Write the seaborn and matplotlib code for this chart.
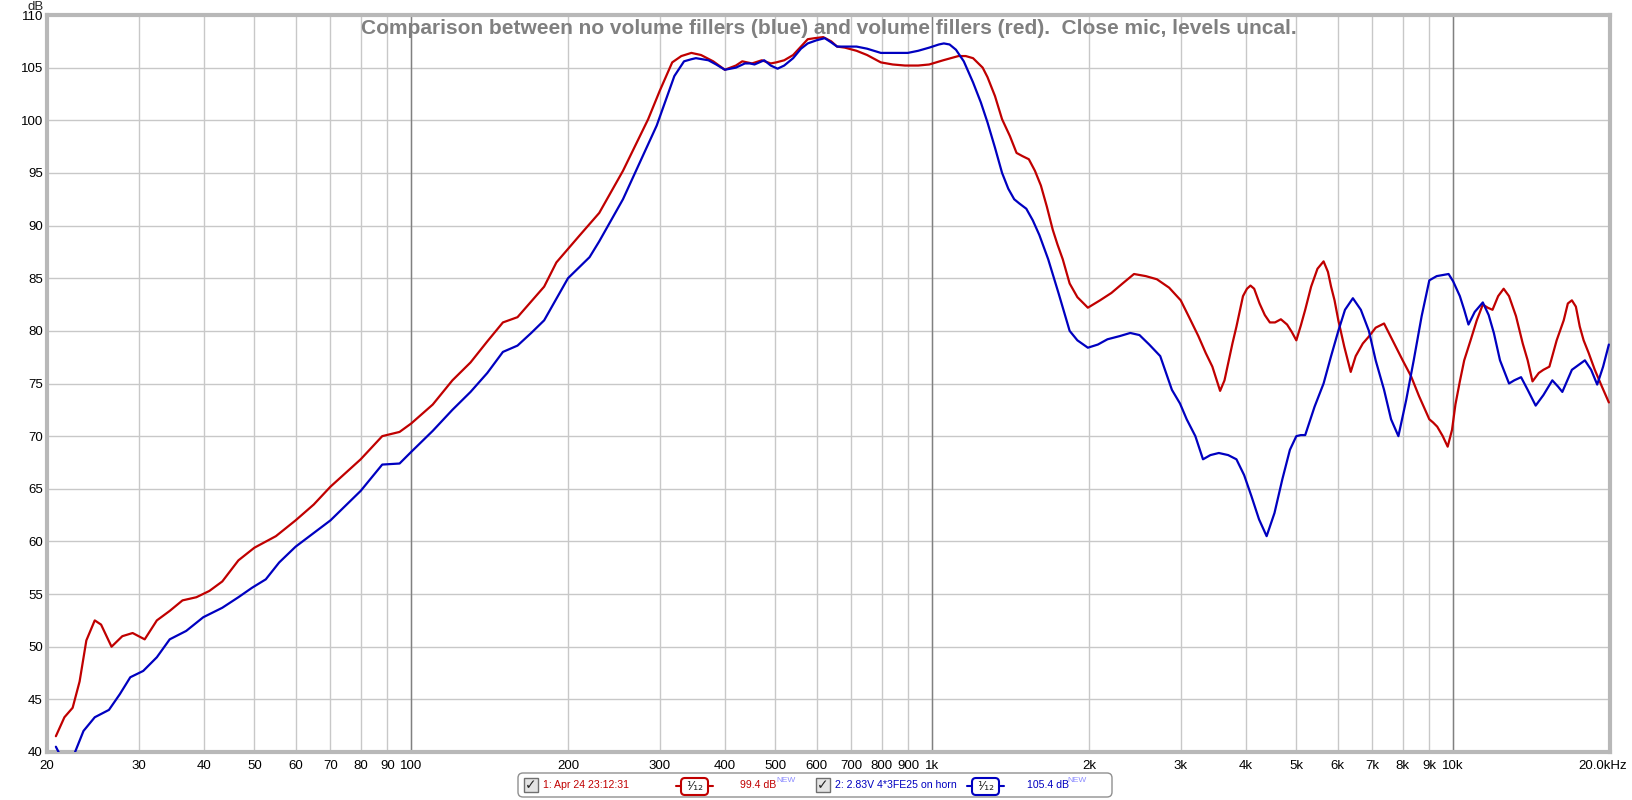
import matplotlib
matplotlib.use('Agg')
import matplotlib.pyplot as plt
from matplotlib.patches import FancyBboxPatch, Rectangle
from matplotlib.transforms import ScaledTranslation
import seaborn as sns

# values (Hz, dB)
red_freq = [20.8, 21.6, 22.4, 23.1, 23.8, 24.7, 25.4, 26.6, 27.9, 29.2, 30.8, 32.5,
            34.4, 36.4, 38.7, 41.0, 43.4, 46.6, 50, 55, 60, 65, 70, 80, 88, 95, 100,
            110, 120, 130, 140, 150, 160, 170, 180, 190, 210, 229.6, 255, 285, 300, 317,
            330, 345, 360, 380, 400, 420, 432, 451, 471, 490, 502, 520, 541, 560, 577,
            595, 618, 640, 657, 680, 716, 750, 797, 840, 887, 940, 987, 1050, 1123, 1160,
            1198, 1250, 1277, 1320, 1362, 1410, 1452, 1490, 1533, 1575, 1617, 1660, 1704,
            1740, 1781, 1836, 1900, 1990, 2100, 2208, 2320, 2440, 2570, 2700, 2850, 3000,
            3120, 3243, 3350, 3450, 3570, 3640, 3710, 3770, 3837, 3900, 3950, 4020, 4083,
            4150, 4250, 4350, 4448, 4550, 4670, 4800, 4900, 5000, 5100, 5200, 5338, 5490,
            5640, 5750, 5830, 5920, 6020, 6180, 6359, 6500, 6708, 6900, 7100, 7368, 7650,
            7850, 8000, 8300, 8600, 9000, 9150, 9320, 9550, 9760, 9950, 10100, 10300,
            10500, 10800, 11100, 11400, 11650, 11900, 12200, 12500, 12800, 13200, 13600,
            13900, 14200, 14600, 14900, 15300, 15800, 16300, 16600, 16900, 17200, 17500,
            17800, 18200, 18700, 19300, 19900]
red_db = [41.5, 43.3, 44.2, 46.7, 50.6, 52.5, 52.1, 50.0, 51.0, 51.3, 50.7, 52.5,
          53.4, 54.4, 54.7, 55.3, 56.2, 58.2, 59.4, 60.5, 62.0, 63.5, 65.2, 67.8, 70.0,
          70.4, 71.2, 73.0, 75.3, 77.0, 79.0, 80.8, 81.3, 82.8, 84.2, 86.5, 89.0, 91.2,
          95.2, 100.1, 102.8, 105.5, 106.1, 106.4, 106.2, 105.6, 104.8, 105.2, 105.6,
          105.4, 105.7, 105.4, 105.5, 105.7, 106.2, 107.0, 107.7, 107.8, 107.9, 107.5,
          107.0, 106.9, 106.6, 106.2, 105.5, 105.3, 105.2, 105.2, 105.3, 105.7, 106.1,
          106.1, 105.9, 105.0, 104.1, 102.3, 100.1, 98.5, 96.9, 96.6, 96.3, 95.2, 93.8,
          91.8, 89.6, 88.2, 86.8, 84.5, 83.2, 82.2, 82.9, 83.6, 84.5, 85.4, 85.2, 84.9,
          84.1, 82.9, 81.2, 79.5, 77.9, 76.6, 74.3, 75.3, 77.2, 78.8, 80.4, 82.0, 83.3,
          84.0, 84.3, 84.0, 82.6, 81.5, 80.8, 80.8, 81.1, 80.6, 79.9, 79.1, 80.5, 82.0,
          84.2, 85.9, 86.6, 85.6, 84.2, 82.9, 81.0, 78.5, 76.1, 77.6, 78.8, 79.5, 80.3,
          80.7, 79.1, 78.0, 77.2, 75.7, 73.8, 71.6, 71.3, 70.9, 70.0, 69.0, 70.6, 73.0,
          75.2, 77.2, 79.1, 81.0, 82.5, 82.2, 82.0, 83.3, 84.0, 83.3, 81.4, 78.8, 77.2,
          75.2, 76.0, 76.3, 76.6, 79.1, 81.0, 82.6, 82.9, 82.3, 80.4, 79.1, 77.9, 76.3,
          74.7, 73.2]

blue_freq = [20.8, 21.5, 22.6, 23.5, 24.7, 26.3, 27.6, 28.9, 30.6, 32.5, 34.4, 37.0,
             39.9, 43.4, 46.6, 49.5, 52.6, 55.8, 60, 70, 80, 88, 95, 100, 110, 120, 130,
             140, 150, 160, 170, 180, 200, 220, 229.6, 255, 296, 310, 320, 334, 345, 352,
             372, 385, 400, 420, 437, 447, 456, 476, 490, 505, 520, 541, 560, 577, 600,
             622, 640, 657, 680, 716, 750, 797, 850, 898, 940, 987, 1030, 1053, 1080, 1111,
             1150, 1198, 1240, 1277, 1320, 1362, 1400, 1437, 1470, 1516, 1560, 1606, 1670,
             1750, 1836, 1900, 1990, 2080, 2170, 2290, 2400, 2500, 2610, 2740, 2885, 2990,
             3080, 3200, 3310, 3420, 3550, 3700, 3837, 3970, 4100, 4240, 4385, 4540, 4700,
             4860, 5000, 5100, 5200, 5420, 5640, 5830, 6020, 6200, 6420, 6650, 6890, 7100,
             7368, 7600, 7850, 8123, 8400, 8700, 9000, 9300, 9800, 10000, 10300, 10500,
             10700, 11000, 11400, 11700, 11970, 12300, 12800, 13100, 13500, 13900, 14400,
             14900, 15500, 15900, 16200, 16900, 17900, 18400, 18900, 19400, 19900]
blue_db = [40.5, 39.1, 39.9, 42.0, 43.3, 44.0, 45.5, 47.1, 47.7, 49.0, 50.7, 51.5,
           52.8, 53.7, 54.7, 55.6, 56.4, 58.0, 59.5, 62.0, 64.8, 67.3, 67.4, 68.5, 70.5,
           72.5, 74.2, 76.0, 78.0, 78.6, 79.8, 81.0, 85.0, 87.0, 88.5, 92.5, 99.5, 102.3,
           104.2, 105.6, 105.8, 105.9, 105.7, 105.3, 104.8, 105.0, 105.4, 105.4, 105.3,
           105.7, 105.2, 104.9, 105.2, 105.9, 106.8, 107.3, 107.6, 107.8, 107.4, 107.0,
           107.0, 107.0, 106.8, 106.4, 106.4, 106.4, 106.6, 106.9, 107.2, 107.3, 107.2,
           106.7, 105.6, 103.6, 101.7, 99.8, 97.4, 95.0, 93.5, 92.5, 92.1, 91.6, 90.5,
           89.1, 86.8, 83.5, 80.0, 79.1, 78.4, 78.7, 79.2, 79.5, 79.8, 79.6, 78.7, 77.6,
           74.4, 73.1, 71.6, 70.0, 67.8, 68.2, 68.4, 68.2, 67.8, 66.3, 64.3, 62.1, 60.5,
           62.7, 65.9, 68.7, 70.0, 70.1, 70.1, 72.8, 75.0, 77.6, 80.0, 82.0, 83.1, 82.0,
           80.0, 77.2, 74.4, 71.6, 70.0, 73.4, 77.2, 81.4, 84.8, 85.2, 85.4, 84.7, 83.3,
           82.0, 80.6, 81.8, 82.7, 81.5, 79.8, 77.2, 75.0, 75.3, 75.6, 74.4, 72.9, 73.9,
           75.3, 74.7, 74.2, 76.3, 77.2, 76.3, 74.9, 76.6, 78.7]

x_ticks = [20, 30, 40, 50, 60, 70, 80, 90, 100, 200, 300, 400, 500, 600, 700, 800, 900,
           1000, 2000, 3000, 4000, 5000, 6000, 7000, 8000, 9000, 10000, 20000]
x_labels = ['20', '30', '40', '50', '60', '70', '80', '90', '100', '200', '300', '400',
            '500', '600', '700', '800', '900', '1k', '2k', '3k', '4k', '5k', '6k', '7k',
            '8k', '9k', '10k', '20.0kHz']
decades = [100, 1000, 10000]
y_ticks = [40, 45, 50, 55, 60, 65, 70, 75, 80, 85, 90, 95, 100, 105, 110]

title = 'Comparison between no volume fillers (blue) and volume fillers (red).  Close mic, levels uncal.'
legend1 = '1: Apr 24 23:12:31'
legend2 = '2: 2.83V 4*3FE25 on horn'
level1 = '99.4 dB'
level2 = '105.4 dB'

RED = '#c00000'
BLUE = '#0000c0'

sns.set_style('white')
plt.rcParams['font.family'] = ['Liberation Sans', 'DejaVu Sans']

W, H = 1633, 800
fig = plt.figure(figsize=(W / 100, H / 100), dpi=100)
ax = fig.add_axes([47 / W, 1 - 752 / H, (1610 - 47) / W, (752 - 15) / H])

sns.lineplot(x=red_freq, y=red_db, color=RED, linewidth=1.6, ax=ax, zorder=4)
sns.lineplot(x=blue_freq, y=blue_db, color=BLUE, linewidth=1.6, ax=ax, zorder=5)

ax.set_xscale('log')
ax.minorticks_off()
ax.set_xlim(20, 20000)
ax.set_ylim(40, 110)
ax.set_xticks(x_ticks, x_labels)
ax.set_yticks(y_ticks)
ax.tick_params(length=0, labelsize=9.5, colors='black')
ax.tick_params(axis='x', pad=6)
ax.tick_params(axis='y', pad=3)
ax.grid(True, color='#c8c8c8', linewidth=1)
for d in decades:
    ax.axvline(d, color='#808080', linewidth=1, zorder=2)
for s in ax.spines.values():
    s.set_color('#b8b8b8')
    s.set_linewidth(3)
ax.set_xlabel('')
ax.set_ylabel('')
last = ax.get_xticklabels()[-1]
last.set_transform(last.get_transform() + ScaledTranslation(-0.07, 0, fig.dpi_scale_trans))

fig.text(36 / W, 1 - 7 / H, 'dB', ha='center', va='center', fontsize=9.5)
ax.text(0.5, 0.995, title, transform=ax.transAxes, ha='center', va='top',
        fontsize=15, fontweight='bold', color='#808080')


# legend strip, drawn in pixel units
def P(x, y):
    return (x / 100, (H - y) / 100)


tr = fig.dpi_scale_trans
fig.patches.append(FancyBboxPatch(P(518, 797), 5.94, 0.24, boxstyle='round,pad=0,rounding_size=0.05',
                                  transform=tr, facecolor='white', edgecolor='#909090', lw=1))

for cx, label, col, ix, lvl, lx, nx in [(524, legend1, RED, 676, level1, 740, 776),
                                         (816, legend2, BLUE, 967, level2, 1027, 1067)]:
    fig.patches.append(Rectangle(P(cx, 792), 0.14, 0.14, transform=tr,
                                 facecolor='#e4e4e4', edgecolor='#707070', lw=1))
    fig.text(*P(cx + 7, 785), '\u2713', transform=tr, ha='center', va='center',
             fontsize=10, fontweight='bold', family='DejaVu Sans')
    fig.text(*P(cx + 19, 785), label, transform=tr, ha='left', va='center',
             fontsize=7.6, color=col)
    fig.lines.append(plt.Line2D([ix / 100, (ix + 37) / 100], [(H - 786) / 100] * 2,
                                transform=tr, color=col, lw=1.5))
    fig.patches.append(FancyBboxPatch(P(ix + 5, 795), 0.27, 0.17,
                                      boxstyle='round,pad=0,rounding_size=0.04', transform=tr,
                                      facecolor='white', edgecolor=col, lw=1.5, zorder=3))
    fig.text(*P(ix + 18.5, 786), '\u00b9\u2044\u2081\u2082', transform=tr, ha='center',
             va='center', fontsize=9, family='DejaVu Sans', zorder=4)
    fig.text(*P(lx, 785), lvl, transform=tr, ha='left', va='center',
             fontsize=7.6, color=col)
    fig.text(*P(nx, 780), 'NEW', transform=tr, ha='left', va='center',
             fontsize=6, color='#8c8cff')

fig.savefig('out.png', dpi=100)
